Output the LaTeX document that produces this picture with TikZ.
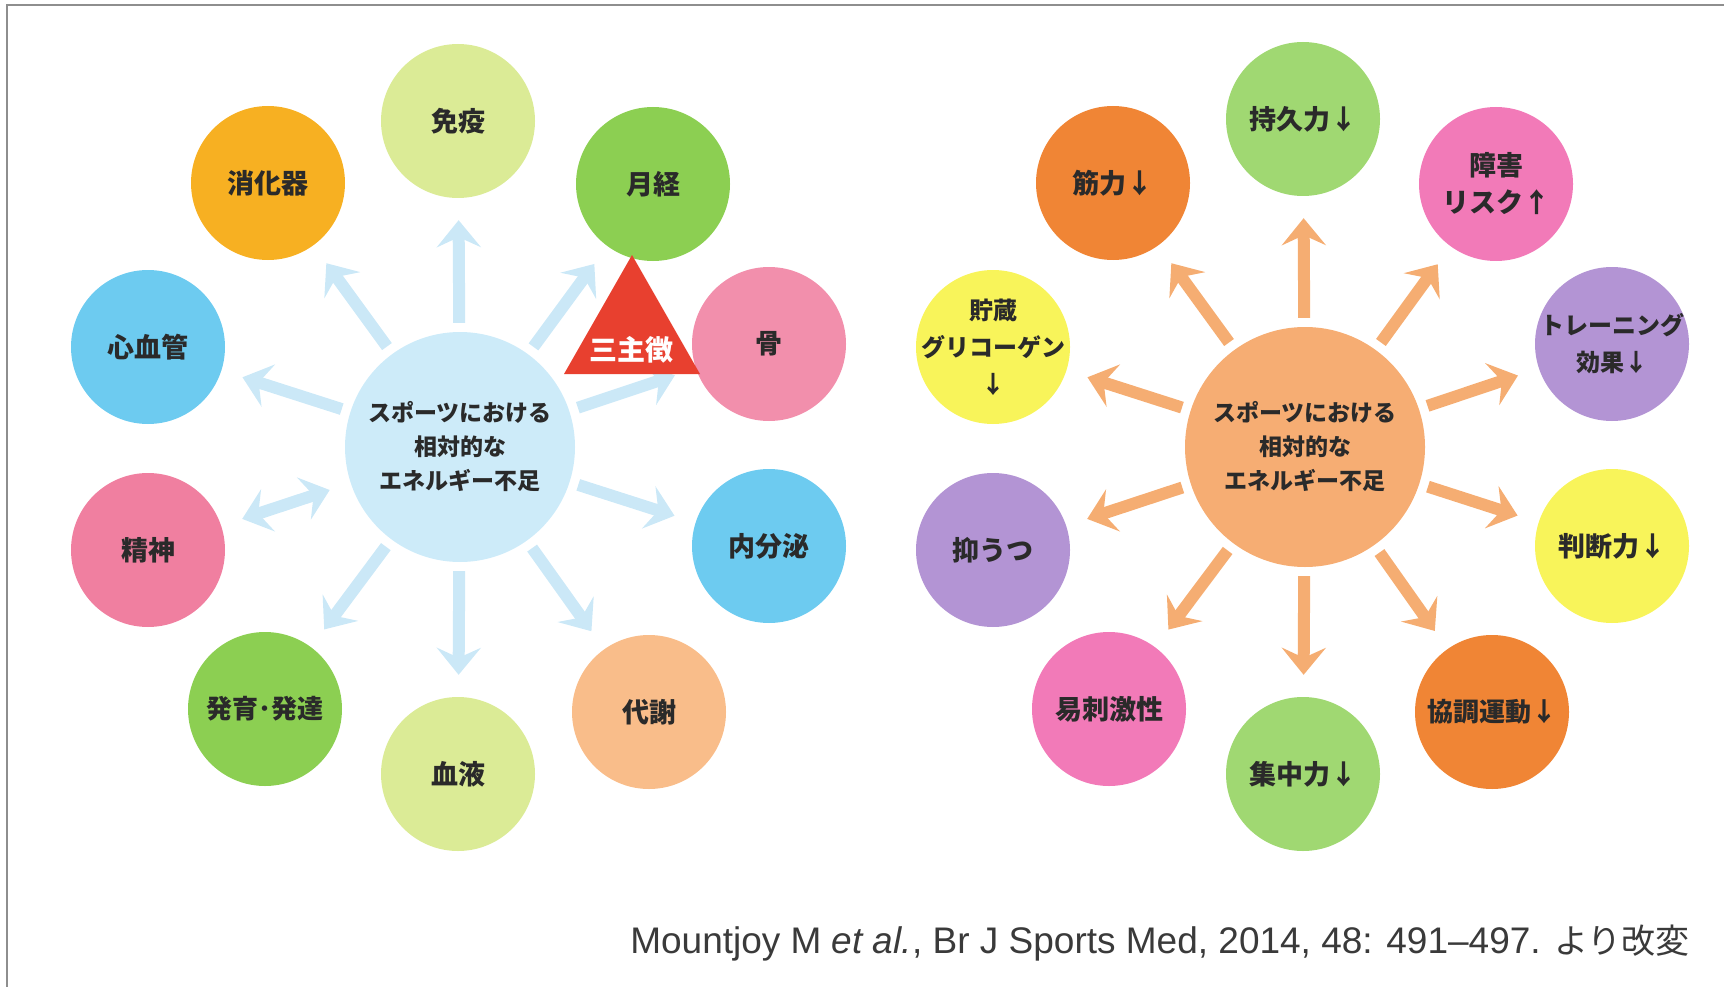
\documentclass[tikz,border=0pt]{standalone}
\usepackage{fontspec}
\setmainfont{Liberation Sans}
\newfontfamily\jp{Noto Sans CJK JP}
\usetikzlibrary{arrows.meta}
\definecolor{frame}{HTML}{8E8E8E}
\definecolor{txt}{HTML}{2A2A2A}
\definecolor{citec}{HTML}{3A3A3A}
\definecolor{lhub}{HTML}{CDEBF9}
\definecolor{larrc}{HTML}{CBE8F7}
\definecolor{rhub}{HTML}{F6AD73}
\definecolor{rarrc}{HTML}{F5AD72}
\definecolor{ygreen}{HTML}{DBEB96}
\definecolor{amber}{HTML}{F7B022}
\definecolor{grn}{HTML}{8CCF52}
\definecolor{sky}{HTML}{6DCBF0}
\definecolor{pinkA}{HTML}{F28FAC}
\definecolor{pinkB}{HTML}{F07FA0}
\definecolor{peach}{HTML}{F9BD8A}
\definecolor{lgreen}{HTML}{A0D872}
\definecolor{orng}{HTML}{F08535}
\definecolor{mag}{HTML}{F27AB8}
\definecolor{yel}{HTML}{F8F45A}
\definecolor{purp}{HTML}{B394D4}
\definecolor{trired}{HTML}{E8402F}
\tikzset{
  bub/.style={circle, minimum size=154pt, inner sep=0pt, align=center, text=txt,
    font=\jp\bfseries\fontsize{27}{37}\selectfont},
  smalltxt/.style={inner sep=-14pt, font=\jp\bfseries\fontsize{24}{37}\selectfont},
  hub/.style={circle, inner sep=0pt, align=center, text=txt,
    font=\jp\bfseries\fontsize{23}{34}\selectfont},
  arrbase/.style={line width=12pt, shorten <=9pt, shorten >=22pt},
  larr/.style={arrbase, draw=larrc, -{Stealth[length=27pt,width=44pt,inset=10pt]}},
  ldarr/.style={arrbase, shorten <=22pt, draw=larrc, {Stealth[length=27pt,width=44pt,inset=10pt]}-{Stealth[length=27pt,width=44pt,inset=10pt]}},
  rarr/.style={arrbase, draw=rarrc, -{Stealth[length=27pt,width=44pt,inset=10pt]}},
}
\begin{document}
\begin{tikzpicture}[x=1pt,y=-1pt]
\useasboundingbox (0,0) rectangle (1724,987);
% frame
\coordinate (ftl) at (7,5);
\coordinate (ftr) at (1724,5);
\coordinate (fbl) at (7,987);
\draw[frame, line width=2.5pt] (fbl) -- (ftl) -- (ftr);

% ---------- left diagram ----------
\node[hub, fill=lhub, minimum size=230pt] (lc) at (460,447) {スポーツにおける\\相対的な\\エネルギー不足};
\node[bub, fill=ygreen] (l1) at (458,121) {免疫};
\node[bub, fill=amber] (l2) at (268,183) {消化器};
\node[bub, fill=grn] (l3) at (653,184) {月経};
\node[bub, fill=sky] (l4) at (148,347) {心血管};
\node[bub, fill=pinkA] (l5) at (769,344) {骨};
\node[bub, fill=pinkB] (l6) at (148,550) {精神};
\node[bub, fill=sky] (l7) at (769,546) {内分泌};
\node[bub, fill=grn, font=\jp\bfseries\fontsize{26}{37}\selectfont] (l8) at (265,709) {発育･発達};
\node[bub, fill=peach] (l9) at (649,712) {代謝};
\node[bub, fill=ygreen] (l10) at (458,774) {血液};
\foreach \t in {l1,l2,l3,l4,l5,l7,l8,l9,l10} \draw[larr] (lc) -- (\t);
\draw[ldarr] (lc) -- (l6);
% triad triangle
\coordinate (ta) at (632,255);
\coordinate (tb) at (700,374);
\coordinate (tc) at (564,374);
\fill[trired] (ta) -- (tb) -- (tc) -- cycle;
\node[text=white, font=\jp\bfseries\fontsize{28}{30}\selectfont, inner sep=0pt] (triad) at (631,350) {三主徴};

% ---------- right diagram ----------
\node[hub, fill=rhub, minimum size=240pt] (rc) at (1305,447) {スポーツにおける\\相対的な\\エネルギー不足};
\node[bub, fill=lgreen] (r1) at (1303,119) {持久力↓};
\node[bub, fill=orng] (r2) at (1113,183) {筋力↓};
\node[bub, fill=mag] (r3) at (1496,184) {障害\\リスク↑};
\node[bub, fill=yel, smalltxt] (r4) at (993,347) {貯蔵\\グリコーゲン\\↓};
\node[bub, fill=purp, smalltxt] (r5) at (1612,344) {トレーニング\\効果↓};
\node[bub, fill=purp] (r6) at (993,550) {抑うつ};
\node[bub, fill=yel] (r7) at (1612,546) {判断力↓};
\node[bub, fill=mag] (r8) at (1109,709) {易刺激性};
\node[bub, fill=orng, font=\jp\bfseries\fontsize{26}{37}\selectfont] (r9) at (1492,712) {協調運動↓};
\node[bub, fill=lgreen] (r10) at (1303,774) {集中力↓};
\foreach \t in {r1,r2,r3,r4,r5,r6,r7,r8,r9,r10} \draw[rarr] (rc) -- (\t);

% citation
\node[anchor=east, text=citec, font=\fontsize{37}{42}\selectfont, inner sep=0pt] (cite) at (1690,943)
  {Mountjoy M \textit{et al.}, Br J Sports Med, 2014, 48: 491–497. {\jp\fontsize{34}{42}\selectfont より改変}};
\end{tikzpicture}
\end{document}
